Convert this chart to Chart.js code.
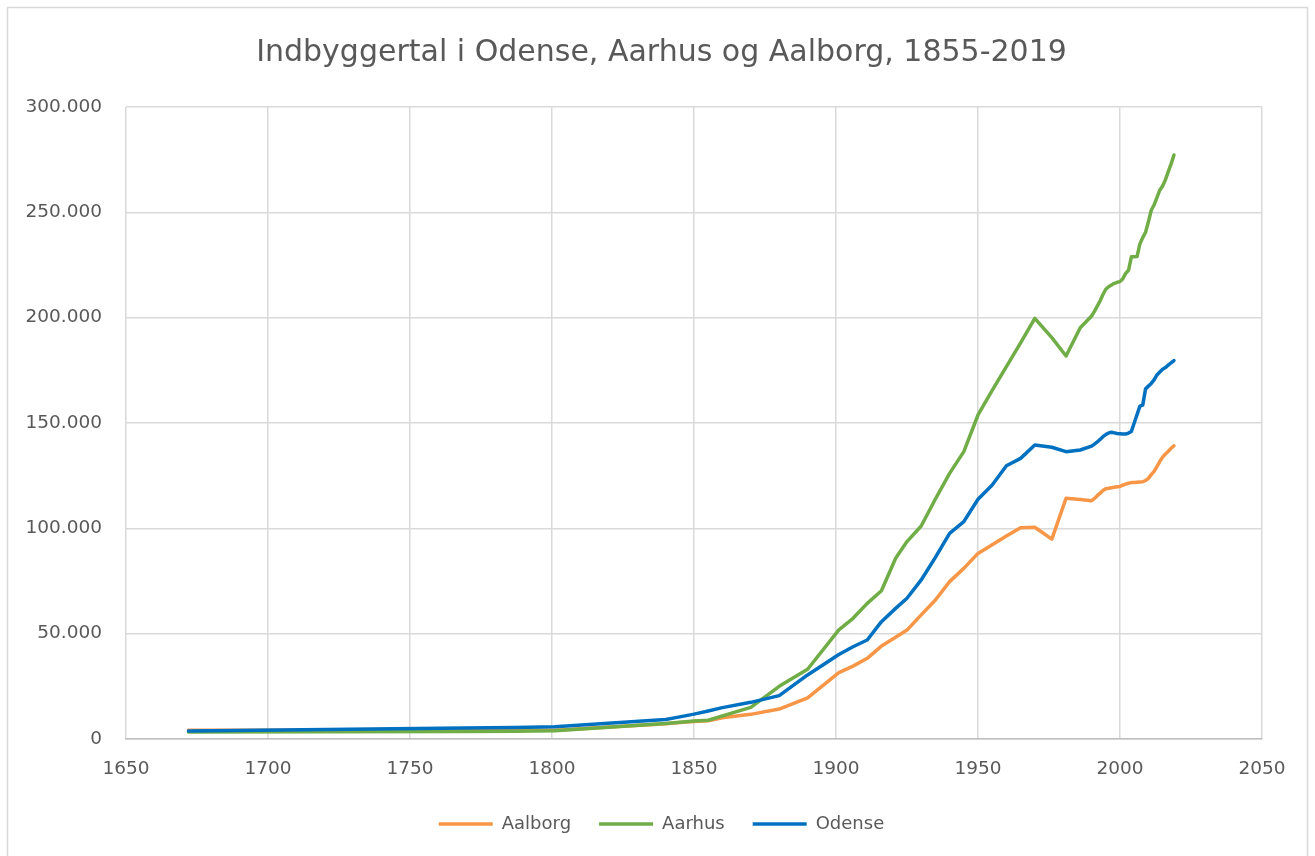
<!DOCTYPE html>
<html lang="da">
<head>
<meta charset="utf-8">
<title>Indbyggertal i Odense, Aarhus og Aalborg</title>
<script src="https://cdn.jsdelivr.net/npm/chart.js@4.4.1/dist/chart.umd.min.js"></script>
<style>
    html, body { margin: 0; padding: 0; background: #ffffff; }
    #chart { display: block; }
</style>
</head>
<body>
<canvas id="chart" width="1315" height="856"></canvas>
<script>
// Years shared by all three series (census years, then yearly from 1990)
const years = [
    1672, 1769, 1787, 1801, 1840, 1845, 1850, 1855, 1860, 1870, 1880, 1890,
    1901, 1906, 1911, 1916, 1921, 1925, 1930, 1935, 1940, 1945, 1950, 1955,
    1960, 1965, 1970, 1976, 1981, 1986,
    1990, 1991, 1992, 1993, 1994, 1995, 1996, 1997, 1998, 1999,
    2000, 2001, 2002, 2003, 2004, 2005, 2006, 2007, 2008, 2009,
    2010, 2011, 2012, 2013, 2014, 2015, 2016, 2017, 2018, 2019
];

const aalborg = [
    4200, 4100, 4100, 4200, 7200, 7800, 8300, 8700, 10100, 11700, 14200, 19500,
    31500, 34600, 38300, 44100, 48300, 51700, 58900, 66000, 74700, 81000, 88100, 92200,
    96400, 100300, 100500, 94900, 114300, 113700,
    113100, 114200, 115500, 116700, 118000, 118800, 119000, 119300, 119500, 119700,
    119900, 120500, 121000, 121400, 121700, 121800, 121900, 122000, 122100, 122700,
    123700, 125500, 127000, 129300, 131700, 133800, 135300, 136600, 138000, 139200
];

const aarhus = [
    3300, 3600, 3700, 3900, 7400, 8000, 8500, 8900, 11000, 15000, 25000, 33100,
    51800, 57300, 64400, 70400, 85800, 93700, 101100, 113900, 126100, 136400, 153800, 165500,
    176800, 188000, 199700, 190500, 181800, 195200,
    200800, 203000, 205500, 208000, 211000, 213500, 214700, 215500, 216300, 216800,
    217100, 218500, 221000, 222500, 228900, 228900, 229000, 235000, 238000, 240500,
    245500, 251000, 253500, 257000, 260500, 262500, 265500, 269300, 273000, 277200
];

const odense = [
    3800, 5200, 5400, 5800, 9300, 10500, 11800, 13300, 14900, 17400, 20600, 30400,
    40100, 43800, 47000, 55700, 62000, 66800, 75500, 86200, 97600, 103200, 113800, 120600,
    129700, 133200, 139600, 138500, 136400, 137200,
    139000, 140000, 141000, 142200, 143500, 144500, 145300, 145600, 145300, 145000,
    144900, 144800, 144800, 145200, 146000, 150000, 154000, 158000, 158500, 166200,
    167500, 168800, 170500, 172800, 174200, 175500, 176300, 177500, 178600, 179600
];

const seriesNames = ['Aalborg', 'Aarhus', 'Odense'];
const seriesColors = ['#F79646', '#70AD47', '#0070C0'];

const xTicks = [1650, 1700, 1750, 1800, 1850, 1900, 1950, 2000, 2050];
const yTicks = [0, 50000, 100000, 150000, 200000, 250000, 300000];

const FONT = "'DejaVu Sans', sans-serif";
const TEXT_COLOR = '#595959';
const GRID_COLOR = '#d9d9d9';

function toPoints(values) {
    return years.map((year, i) => ({ x: year, y: values[i] }));
}

// Danish thousands separator: 300000 -> 300.000
function formatDanish(value) {
    return String(value).replace(/\B(?=(\d{3})+(?!\d))/g, '.');
}

function makeDataset(index, values, order) {
    return {
        label: seriesNames[index],
        data: toPoints(values),
        borderColor: seriesColors[index],
        backgroundColor: seriesColors[index],
        borderWidth: 3.5,
        borderCapStyle: 'round',
        borderJoinStyle: 'round',
        pointRadius: 0,
        pointHoverRadius: 0,
        tension: 0,
        fill: false,
        order: order
    };
}

// Outer frame around the whole chart, like the spreadsheet chart box
const framePlugin = {
    id: 'frame',
    beforeDraw(chart) {
        const ctx = chart.ctx;
        ctx.save();
        ctx.fillStyle = '#ffffff';
        ctx.fillRect(0, 0, chart.width, chart.height);
        ctx.strokeStyle = GRID_COLOR;
        ctx.lineWidth = 1.5;
        ctx.strokeRect(7.5, 7.5, chart.width - 15, chart.height + 20);
        ctx.restore();
    }
};

const ctx = document.getElementById('chart');

new Chart(ctx, {
    type: 'line',
    data: {
        datasets: [
            makeDataset(0, aalborg, 2),
            makeDataset(1, aarhus, 1),
            makeDataset(2, odense, 0)
        ]
    },
    options: {
        responsive: false,
        animation: false,
        layout: {
            padding: { left: 8, right: 0, top: 0, bottom: 13 }
        },
        plugins: {
            title: {
                display: true,
                text: 'Indbyggertal i Odense, Aarhus og Aalborg, 1855-2019',
                color: TEXT_COLOR,
                font: { family: FONT, size: 30, weight: 'normal', lineHeight: 1.2 },
                padding: { top: 35, bottom: 36 }
            },
            legend: {
                position: 'bottom',
                labels: {
                    color: TEXT_COLOR,
                    font: { family: FONT, size: 18 },
                    usePointStyle: true,
                    pointStyle: 'line',
                    pointStyleWidth: 54,
                    padding: 28,
                    sort: (a, b) => a.datasetIndex - b.datasetIndex
                }
            },
            tooltip: { enabled: false }
        },
        scales: {
            x: {
                type: 'linear',
                min: xTicks[0],
                max: xTicks[xTicks.length - 1],
                afterBuildTicks: (scale) => {
                    scale.ticks = xTicks.map(v => ({ value: v }));
                },
                afterFit: (scale) => {
                    scale.height = 48;
                    scale.paddingRight = 53;
                },
                ticks: {
                    color: TEXT_COLOR,
                    font: { family: FONT, size: 18.5 },
                    padding: 19,
                    maxRotation: 0,
                    callback: (value) => String(value)
                },
                grid: {
                    color: GRID_COLOR,
                    lineWidth: 1.5,
                    drawTicks: false
                },
                border: {
                    color: '#bfbfbf',
                    width: 1.5
                }
            },
            y: {
                min: yTicks[0],
                max: yTicks[yTicks.length - 1],
                afterBuildTicks: (scale) => {
                    scale.ticks = yTicks.map(v => ({ value: v }));
                },
                afterFit: (scale) => {
                    scale.width = 118;
                },
                ticks: {
                    color: TEXT_COLOR,
                    font: { family: FONT, size: 18.5 },
                    padding: 24,
                    callback: (value) => formatDanish(value)
                },
                grid: {
                    color: GRID_COLOR,
                    lineWidth: 1.5,
                    drawTicks: false
                },
                border: {
                    display: false
                }
            }
        }
    },
    plugins: [framePlugin]
});
</script>
</body>
</html>
